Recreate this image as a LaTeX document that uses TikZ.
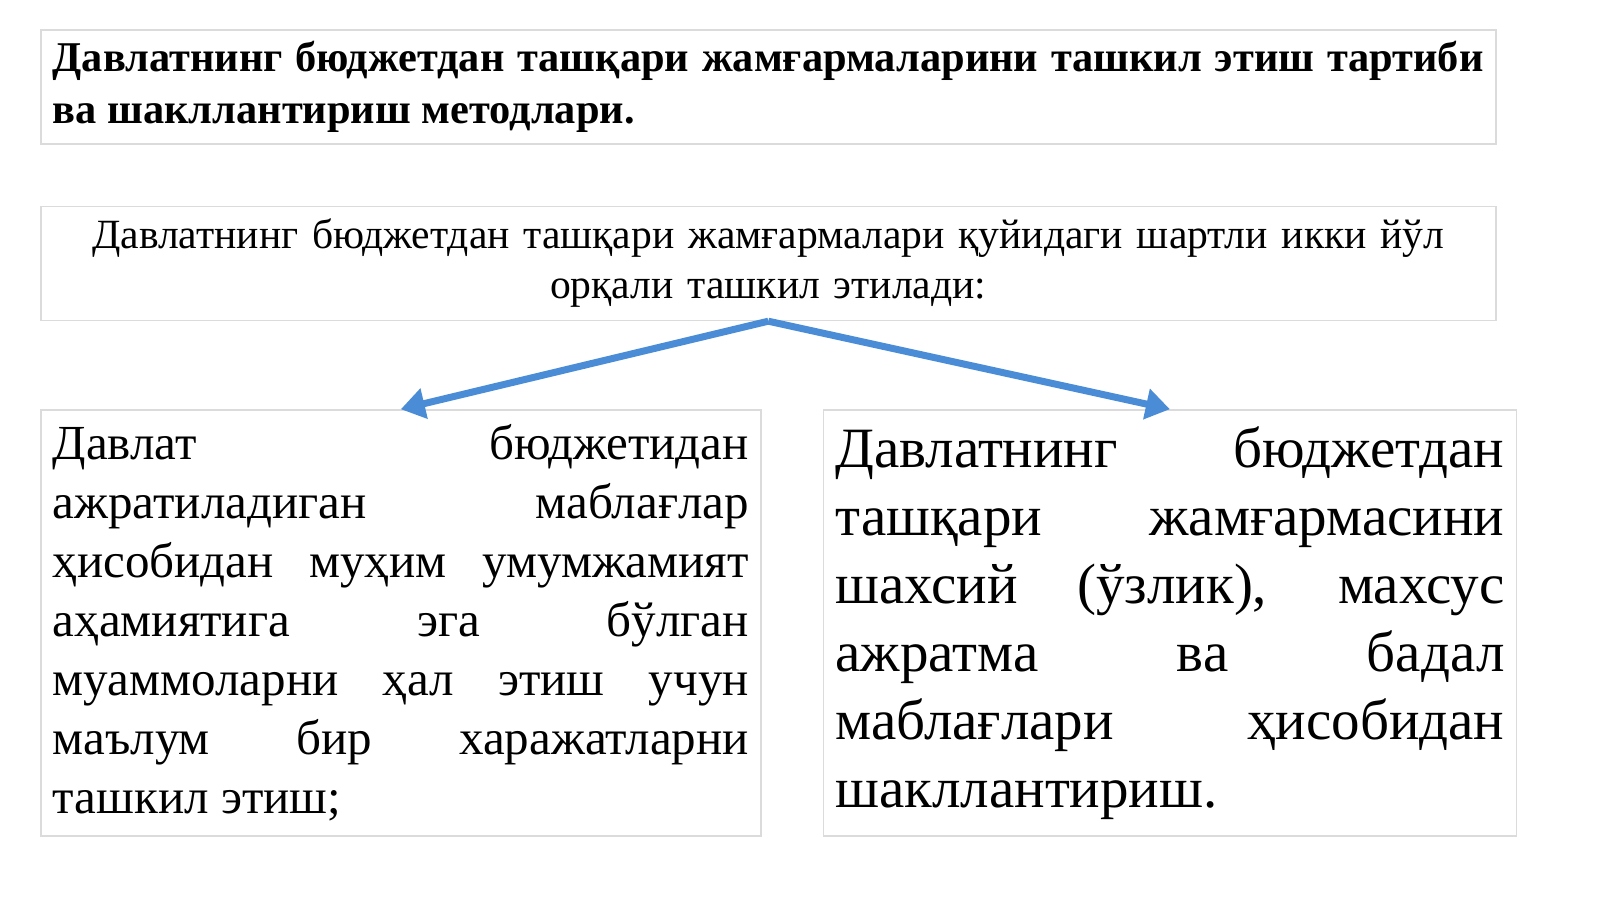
\documentclass[tikz,border=0pt]{standalone}
\usepackage{fontspec}
\setmainfont{Liberation Serif}
\usetikzlibrary{positioning,arrows.meta}
\definecolor{arrowblue}{RGB}{74,140,214}

\begin{document}
\begin{tikzpicture}[main box/.style={draw=black!14,line width=0.8pt,inner xsep=6pt,inner ysep=0pt,align=justify},link/.style={draw=arrowblue,line width=3.5pt,-{Triangle[length=12pt,width=15pt]}}]
                \useasboundingbox (0,0) rectangle (800pt,-449.5pt);
                \node[main box,anchor=north west,text width=715.5pt,minimum height=57pt,font=\bfseries\fontsize{21.2}{26}\selectfont] (title) at (20pt,-14.5pt)
                    {Давлатнинг бюджетдан ташқари жамғармаларини ташкил этиш тартиби\linebreak ва шакллантириш методлари.};
                \node[main box,text width=715.5pt,minimum height=57pt,align=center,font=\fontsize{20.8}{25}\selectfont] (sub) [below=30.5pt of title]
                    {Давлатнинг бюджетдан ташқари жамғармалари қуйидаги шартли икки йўл\\орқали ташкил этилади:};
                \node[main box,text width=348pt,minimum height=213pt,font=\fontsize{24.5}{29.5}\selectfont] (left) [below=44pt of sub.south west,anchor=north west]
                    {Давлат бюджетидан\linebreak
                     ажратиладиган маблағлар\linebreak
                     ҳисобидан муҳим умумжамият\linebreak
                     аҳамиятига эга бўлган\linebreak
                     муаммоларни ҳал этиш учун\linebreak
                     маълум бир харажатларни\linebreak
                     ташкил этиш;};
                \node[main box,text width=334.5pt,minimum height=213pt,font=\fontsize{28.5}{34}\selectfont] (right) [right=30.5pt of left]
                    {Давлатнинг бюджетдан\linebreak
                     ташқари жамғармасини\linebreak
                     шахсий (ўзлик), махсус\linebreak
                     ажратма ва бадал\linebreak
                     маблағлари ҳисобидан\linebreak
                     шакллантириш.};

                \draw[link] (sub.south) -- (left.north);
                \draw[link] (sub.south) -- (right.north);

            \end{tikzpicture}
\end{document}
